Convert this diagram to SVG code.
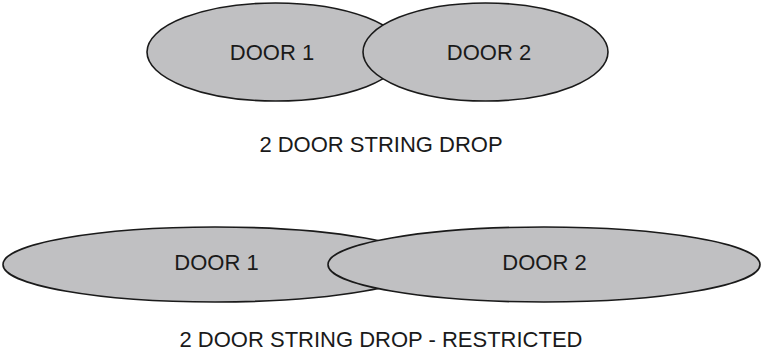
<svg xmlns="http://www.w3.org/2000/svg" width="762" height="363" viewBox="0 0 762 363">
<style>
.door{fill:#c0c0c2;stroke:#1a1a1a;stroke-width:1.6}
.lbl{font-family:"Liberation Sans",Arial,sans-serif;font-size:22px;fill:#1a1a1a;text-anchor:middle}
</style>
<rect width="762" height="363" fill="#ffffff"/>
<g id="top-door1"><ellipse class="door" cx="275.5" cy="52" rx="128.5" ry="49"/><text class="lbl" x="272" y="60">DOOR 1</text></g>
<g id="top-door2"><ellipse class="door" cx="485.5" cy="52" rx="122.5" ry="49"/><text class="lbl" x="489" y="60">DOOR 2</text></g>
<text class="lbl" x="381" y="152">2 DOOR STRING DROP</text>
<g id="bot-door1"><ellipse class="door" cx="215" cy="264.5" rx="212" ry="37.5"/><text class="lbl" x="216.5" y="270">DOOR 1</text></g>
<g id="bot-door2"><ellipse class="door" cx="544" cy="264.5" rx="216" ry="37.5"/><text class="lbl" x="544.5" y="270">DOOR 2</text></g>
<text class="lbl" x="381" y="347">2 DOOR STRING DROP - RESTRICTED</text>
<g id="connectors"/>
</svg>
